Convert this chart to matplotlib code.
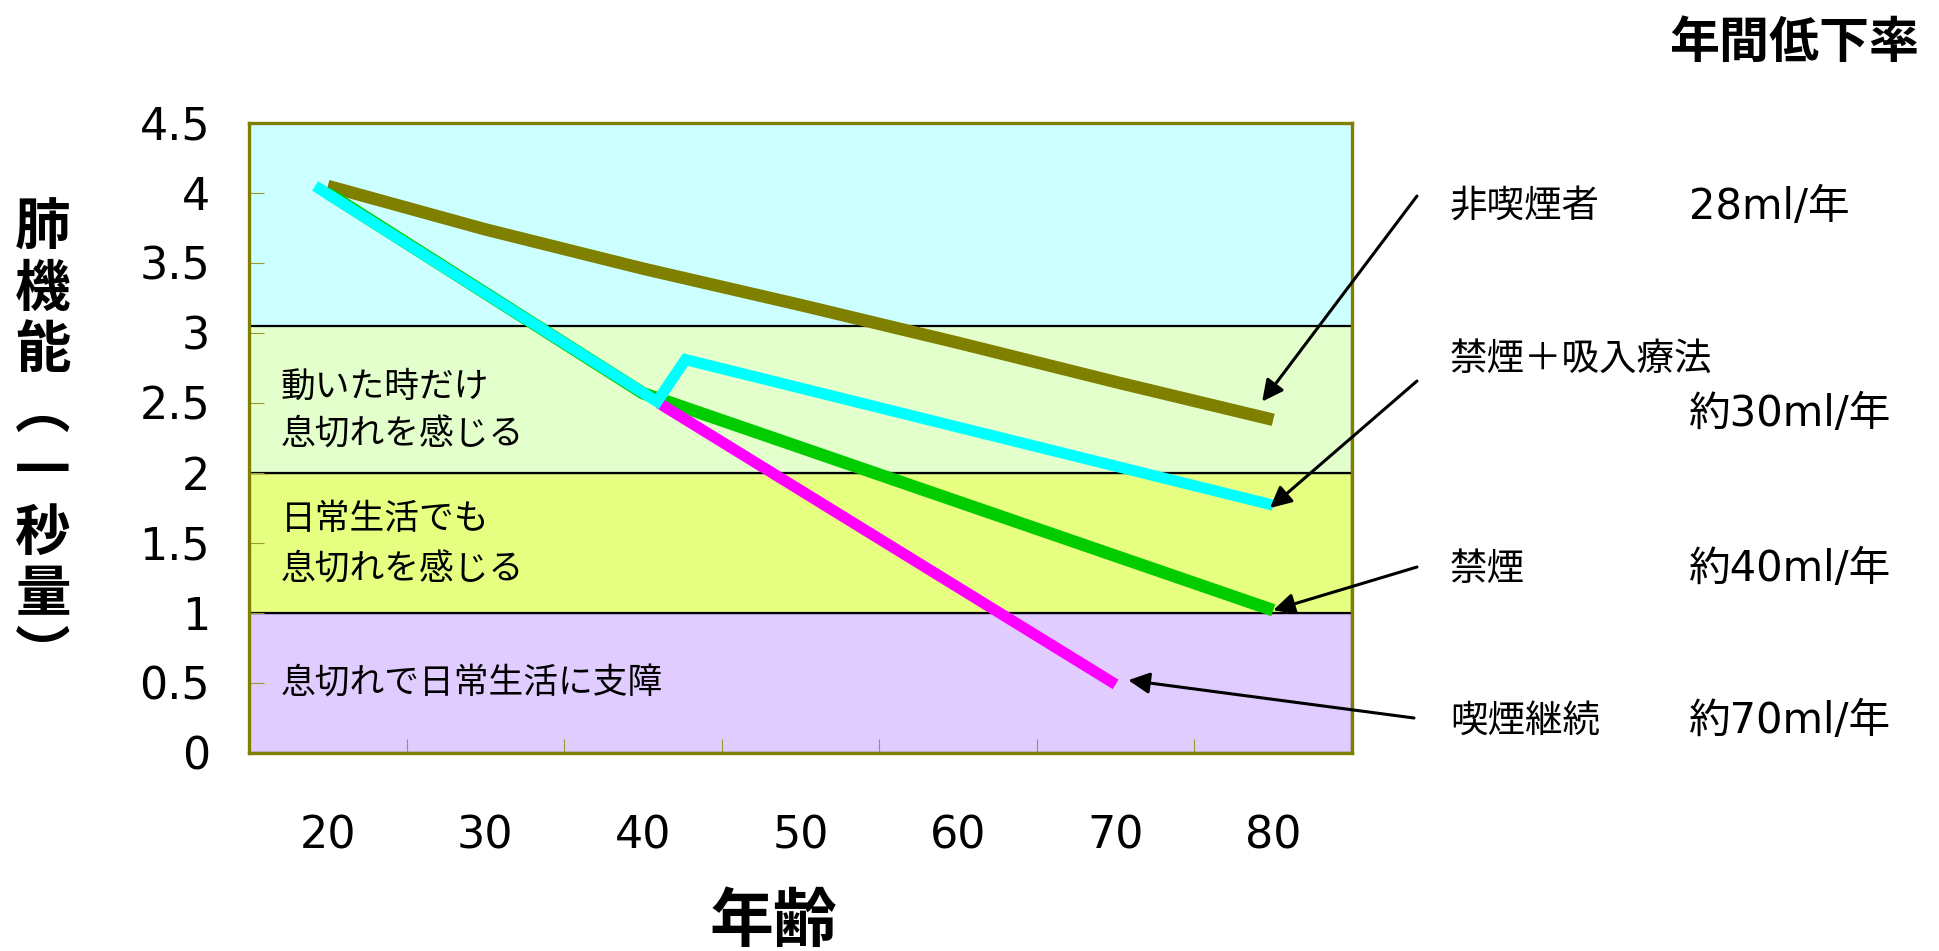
import matplotlib.pyplot as plt
from matplotlib.patches import Rectangle

plt.rcParams['font.family'] = ['DejaVu Sans', 'Noto Sans CJK JP']

JP = ['Noto Sans CJK JP', 'DejaVu Sans']

# 肺機能 (一秒量, L) by age
ages = [20, 30, 40, 50, 60, 70, 80]
nonsmoker_fev = [4.05, 3.74, 3.46, 3.20, 2.93, 2.65, 2.38]

quit_ages = [20, 40, 80]
quit_fev = [4.00, 2.57, 1.02]

inhaler_ages = [19.2, 40.9, 42.7, 80]
inhaler_fev = [4.05, 2.51, 2.81, 1.77]

smoker_ages = [41, 70]
smoker_fev = [2.50, 0.49]

# symptom bands
band_low = [0, 1, 2]
band_high = [1, 2, 3.05]
band_colors = ['#E1CCFF', '#E6FF80', '#E3FFCC']
band_texts = [['息切れで日常生活に支障'],
              ['日常生活でも', '息切れを感じる'],
              ['動いた時だけ', '息切れを感じる']]
band_text_y = [[0.49], [1.67, 1.31], [2.61, 2.27]]

y_ticks = [0, 0.5, 1, 1.5, 2, 2.5, 3, 3.5, 4, 4.5]
y_labels = ['0', '0.5', '1', '1.5', '2', '2.5', '3', '3.5', '4', '4.5']

rate_names = ['非喫煙者', '禁煙＋吸入療法', '禁煙', '喫煙継続']
rate_values = ['28ml/年', '約30ml/年', '約40ml/年', '約70ml/年']

W, H = 1940, 951
fig = plt.figure(figsize=(W / 100, H / 100), dpi=100)
ax = fig.add_axes([249 / W, 1 - 753 / H, (1352 - 249) / W, (753 - 123) / H])
ax.set_facecolor('#CCFFFF')
ax.set_xlim(15, 85)
ax.set_ylim(0, 4.5)

for lo, hi, col, lines, ys in zip(band_low, band_high, band_colors, band_texts, band_text_y):
    ax.add_patch(Rectangle((15, lo), 70, hi - lo, facecolor=col, edgecolor='black',
                           linewidth=1.6, zorder=1))
    for t, y in zip(lines, ys):
        ax.text(17.0, y, t, fontsize=25, family=JP, va='center', ha='left', zorder=3)

ax.plot(ages, nonsmoker_fev, color='#808000', lw=9, solid_capstyle='butt',
        solid_joinstyle='miter', zorder=4)
ax.plot(quit_ages, quit_fev, color='#00CC00', lw=9, solid_capstyle='butt',
        solid_joinstyle='miter', zorder=5)
ax.plot(smoker_ages, smoker_fev, color='#FF00FF', lw=8, solid_capstyle='butt',
        solid_joinstyle='miter', zorder=6)
ax.plot(inhaler_ages, inhaler_fev, color='#00FFFF', lw=8, solid_capstyle='butt',
        solid_joinstyle='miter', zorder=7)

# ticks
ax.set_yticks(y_ticks)
ax.set_yticklabels(y_labels)
ax.tick_params(axis='y', direction='in', length=11, width=0.8, color='#9A9A30',
               labelsize=32, pad=28)
ax.set_xticks(ages)
ax.set_xticklabels([str(a) for a in ages])
ax.set_xticks(range(15, 86, 10), minor=True)
ax.tick_params(axis='x', which='major', length=0, labelsize=32, pad=44)
ax.tick_params(axis='x', which='minor', direction='in', length=10, width=0.8,
               color='#9A9A30')
for t in ax.get_yticklines() + ax.get_xticklines(minor=True):
    t.set_zorder(8)
for s in ax.spines.values():
    s.set_color('#808000')
    s.set_linewidth(2.4)
    s.set_zorder(9)

# vertical y label
ylabel_chars = ['肺', '機', '能', '︵', '一', '秒', '量', '︶']
for i, ch in enumerate(ylabel_chars):
    fig.text(43 / W, 1 - (229 + i * 61) / H, ch, fontsize=40, fontweight='bold',
             family=JP, ha='center', va='center')

fig.text(773 / W, 1 - 922 / H, '年齢', fontsize=46, fontweight='bold', family=JP,
         ha='center', va='center')
fig.text(1794 / W, 1 - 43 / H, '年間低下率', fontsize=36, fontweight='bold',
         family=JP, ha='center', va='center')

# right-hand rate labels
name_y = [207, 359, 569, 721]
value_y = [207, 414, 569, 721]
for name, val, ny, vy in zip(rate_names, rate_values, name_y, value_y):
    fig.text(1450 / W, 1 - ny / H, name, fontsize=27, family=JP, ha='left', va='center')
    fig.text(1689 / W, 1 - vy / H, val, fontsize=30, ha='left', va='center')

# arrows from labels to the line ends
arrow_tips = [(ages[-1] - 0.7, nonsmoker_fev[-1] + 0.13),
              (inhaler_ages[-1] - 0.2, inhaler_fev[-1] - 0.02),
              (quit_ages[-1], quit_fev[-1]),
              (smoker_ages[-1] + 0.8, smoker_fev[-1] + 0.03)]
arrow_tails = [(1417, 196), (1417, 381), (1417, 567), (1414, 718)]
for tip, tail in zip(arrow_tips, arrow_tails):
    ax.annotate('', xy=tip, xycoords='data', xytext=(tail[0], H - tail[1]),
                textcoords='figure pixels', annotation_clip=False,
                arrowprops=dict(arrowstyle='-|>', color='black', lw=2.2,
                                mutation_scale=32, shrinkA=0, shrinkB=0),
                zorder=10)

fig.savefig('out.png', dpi=100)
